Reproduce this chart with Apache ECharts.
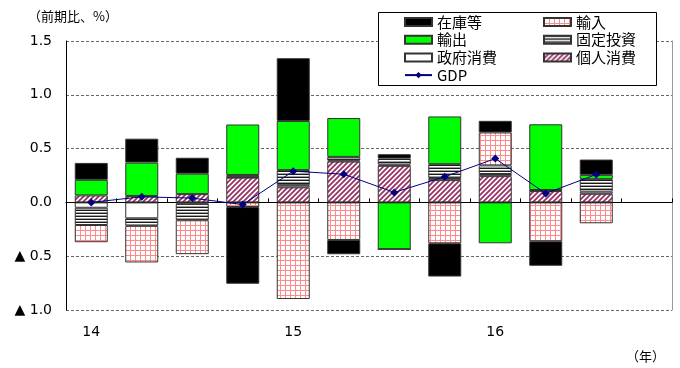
<!DOCTYPE html>
<html>
<head>
<meta charset="utf-8">
<script src="https://cdn.jsdelivr.net/npm/echarts@6/dist/echarts.min.js"></script>
<style>html,body{margin:0;padding:0;background:#fff;}#c{width:680px;height:368px;}</style>
</head>
<body>
<div id="c"></div>
<script>
// ---- data ----
const categories = ['14Q1','14Q2','14Q3','14Q4','15Q1','15Q2','15Q3','15Q4','16Q1','16Q2','16Q3','16Q4'];
const yearLabels = ['14','','','','15','','','','16','','',''];
const personal   = [0.065, 0.06, 0.077, 0.23, 0.14, 0.38, 0.34, 0.207, 0.244, 0.105, 0.08];
const government = [-0.05, -0.148, -0.012, 0.005, 0.02, 0.01, 0.012, 0.02, 0.02, 0.005, 0.02];
const fixedInv   = [-0.16, -0.07, -0.154, 0.02, 0.14, 0.033, 0.056, 0.128, 0.08, 0.005, 0.116];
const exportsC   = [0.145, 0.31, 0.19, 0.469, 0.457, 0.361, -0.435, 0.444, -0.38, 0.611, 0.04];
const importsC   = [-0.16, -0.34, -0.315, -0.043, -0.898, -0.349, 0, -0.38, 0.306, -0.361, -0.194];
const inventory  = [0.157, 0.222, 0.148, -0.713, 0.583, -0.133, 0.04, -0.309, 0.108, -0.228, 0.142];
const gdp        = [0.0, 0.052, 0.04, -0.02, 0.29, 0.262, 0.093, 0.238, 0.407, 0.083, 0.26];
const yTicks = { min: -1.0, max: 1.5, interval: 0.5 };

// ---- patterns ----
function pat(w, h, fn) {
  const c = document.createElement('canvas');
  c.width = w; c.height = h;
  const g = c.getContext('2d');
  g.fillStyle = '#fff'; g.fillRect(0, 0, w, h);
  fn(g);
  return { image: c, repeat: 'repeat' };
}
const importPat = pat(5, 5, g => {
  g.fillStyle = '#ff8a8a';
  g.fillRect(0, 0, 5, 1);
  g.fillRect(0, 0, 1, 5);
});
const hatchPat = pat(5, 5, g => {
  g.strokeStyle = '#993366';
  g.lineWidth = 1.8;
  g.beginPath();
  g.moveTo(-1, 6); g.lineTo(6, -1);
  g.moveTo(-1, 1); g.lineTo(1, -1);
  g.moveTo(4, 6); g.lineTo(6, 4);
  g.stroke();
});
const stripePat = pat(1, 3, g => {
  g.fillStyle = '#1a1a1a'; g.fillRect(0, 0, 1, 1);
  g.fillStyle = '#a0a0a0'; g.fillRect(0, 2, 1, 1);
});

const border = '#333';
function barSeries(name, data, color) {
  return {
    name, type: 'bar', stack: 'total', data, barWidth: 33,
    xAxisIndex: 0, yAxisIndex: 0,
    itemStyle: { color, borderColor: border, borderWidth: 1 },
    emphasis: { disabled: true }
  };
}

const chart = echarts.init(document.getElementById('c'), null, { renderer: 'canvas' });
const numFont = 'DejaVu Sans';
const jpFont = 'Noto Sans CJK JP';
const legendCommon = {
  orient: 'vertical', top: 14.5, itemWidth: 27, itemHeight: 8, itemGap: 2.7,
  padding: 0, z: 10, selectedMode: false,
  textStyle: { fontFamily: jpFont, fontSize: 15, color: '#000', lineHeight: 15 }
};

chart.setOption({
  animation: false,
  grid: { left: 66, right: 8, top: 41, bottom: 58 },
  xAxis: [
    {
      type: 'category', data: categories,
      axisLine: { onZero: true, lineStyle: { color: '#000', width: 1 } },
      axisTick: { show: true, inside: true, length: 4, lineStyle: { color: '#000' } },
      axisLabel: { show: false }, splitLine: { show: false }
    },
    {
      type: 'category', data: yearLabels, position: 'bottom',
      axisLine: { show: false, onZero: false }, axisTick: { show: false },
      axisLabel: { interval: 0, margin: 15, fontFamily: numFont, fontSize: 14, color: '#000' },
      splitLine: { show: false }
    }
  ],
  yAxis: [
    {
      type: 'value', min: yTicks.min, max: yTicks.max, interval: yTicks.interval,
      axisLine: { show: true, lineStyle: { color: '#000', width: 1 } },
      axisTick: { show: false },
      axisLabel: {
        margin: 14, fontFamily: numFont, fontSize: 14, color: '#000',
        formatter: v => (v < 0 ? '▲ ' + Math.abs(v).toFixed(1) : v.toFixed(1))
      },
      splitLine: { show: true, lineStyle: { color: '#666', type: [3, 2], width: 1 } }
    },
    {
      type: 'value', position: 'right', min: yTicks.min, max: yTicks.max, interval: yTicks.interval,
      axisLine: { show: true, lineStyle: { color: '#999', width: 1 } },
      axisTick: { show: false }, axisLabel: { show: false }, splitLine: { show: false }
    }
  ],
  legend: [
    Object.assign({ left: 404, data: [
      { name: '在庫等', icon: 'rect' }, { name: '輸出', icon: 'rect' },
      { name: '政府消費', icon: 'rect' }, { name: 'GDP' }
    ] }, legendCommon),
    Object.assign({ left: 543, data: [
      { name: '輸入', icon: 'rect' }, { name: '固定投資', icon: 'rect' }, { name: '個人消費', icon: 'rect' }
    ] }, legendCommon)
  ],
  graphic: [
    { type: 'rect', z: 8, shape: { x: 378.5, y: 12.5, width: 278, height: 73 },
      style: { fill: '#fff', stroke: '#000', lineWidth: 1 } },
    { type: 'text', z: 9, left: 28, top: 10,
      style: { text: '（前期比、%）', font: '13px "Noto Sans CJK JP"', fill: '#000' } },
    { type: 'text', z: 9, left: 626, top: 350,
      style: { text: '（年）', font: '13px "Noto Sans CJK JP"', fill: '#000' } }
  ],
  series: [
    barSeries('個人消費', personal, hatchPat),
    barSeries('政府消費', government, '#ffffff'),
    barSeries('固定投資', fixedInv, stripePat),
    barSeries('輸出', exportsC, '#00ff00'),
    barSeries('輸入', importsC, importPat),
    barSeries('在庫等', inventory, '#000000'),
    {
      name: 'GDP', type: 'line', data: gdp, xAxisIndex: 0, yAxisIndex: 0, z: 5,
      symbol: 'diamond', symbolSize: 8,
      lineStyle: { color: '#000080', width: 1 },
      itemStyle: { color: '#000080' },
      emphasis: { disabled: true }
    }
  ]
});
</script>
</body>
</html>
